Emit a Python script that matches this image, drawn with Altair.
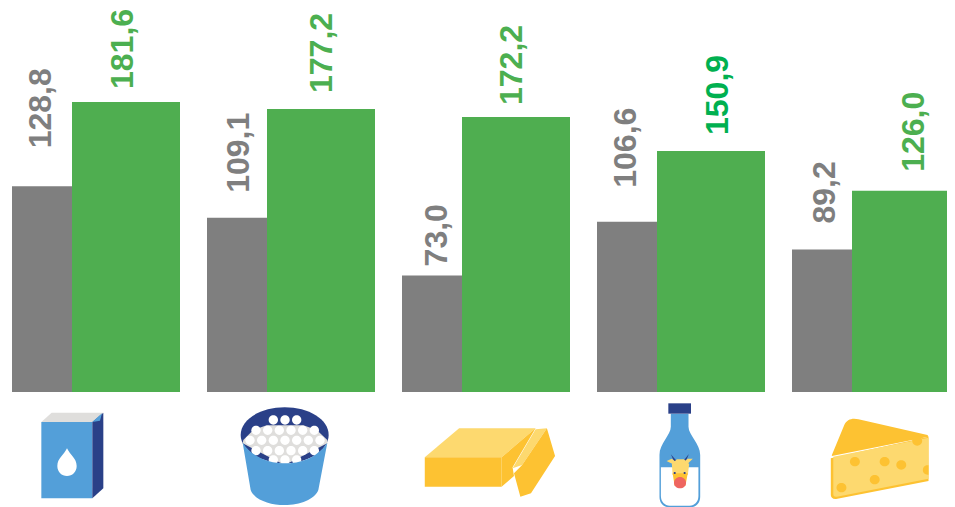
import re
import altair as alt
import pandas as pd

# ---- chart values ----
categories = ["Leite UHT", "Leite em pó", "Manteiga", "Leite", "Queijo"]
gray_values = [128.8, 109.1, 73.0, 106.6, 89.2]
green_values = [181.6, 177.2, 172.2, 150.9, 126.0]

# ---- hand placement of the value labels (screen px) ----
gray_nudge = [(-55, -38), (-52, -25), (-49.5, -9), (-55.5, -34), (-51, -26)]
green_nudge = [(27, -13), (30.5, -16), (26, -12), (36.5, -16), (37.5, -19)]
green_label_colors = ["#4caf50", "#4caf50", "#4caf50", "#00b050", "#4caf50"]

GRAY = "#7f7f7f"
GREEN = "#4fae50"
BLUE = "#539fd9"
NAVY = "#2a4088"
LIGHT = "#dfdedc"
AMBER = "#fdc232"
BUTTER = "#fdd96f"


def circle(cx, cy, r):
    k = 0.5523 * r
    return (f"M{cx-r},{cy} C{cx-r},{cy-k} {cx-k},{cy-r} {cx},{cy-r} "
            f"C{cx+k},{cy-r} {cx+r},{cy-k} {cx+r},{cy} "
            f"C{cx+r},{cy+k} {cx+k},{cy+r} {cx},{cy+r} "
            f"C{cx-k},{cy+r} {cx-r},{cy+k} {cx-r},{cy} Z")


def place(path, stretch, dx):
    return re.sub(r"(-?[\d.]+),(-?[\d.]+)",
                  lambda m: f"{float(m.group(1)) * stretch + dx:.2f},{m.group(2)}", path)


# Icon artwork: pictograms, drawn at 3x, origin x is given for each group
carton = [
    (BLUE, "M124,96 L277,96 L277,325 L124,325 Z"),
    (LIGHT, "M124,96 L155,68 L310,68 L277,96 Z"),
    (NAVY, "M277,96 L310,68 L310,295 L277,325 Z"),
    (BLUE, "M277,96 L306,70 L300,92 Z"),
    ("#ffffff", "M201,175 C210,195 230,205 230,228 C230,246 217,258 201,258 "
                "C185,258 172,246 172,228 C172,205 192,195 201,175 Z"),
]

bucket = [
    (NAVY, "M722,135 C722,88 782,52 854,52 C926,52 986,88 986,135 "
           "C986,180 926,220 854,220 C782,220 722,180 722,135 Z"),
    (LIGHT, "M730,150 L760,120 L800,106 L910,106 L950,120 L982,150 L982,160 L854,225 L728,160 Z"),
]
for cy, xs in [(90, [820, 855, 890]),
               (121, [768, 803, 838, 873, 908, 943]),
               (151, [750, 785, 820, 855, 890, 925, 960]),
               (182, [768, 803, 838, 873, 908, 943]),
               (210, [820, 855, 890])]:
    bucket += [("#ffffff", circle(x, cy, 14)) for x in xs]
bucket.append((BLUE, "M728,158 C760,205 810,220 854,220 C900,220 950,205 982,158 "
                     "L955,300 C945,328 900,345 854,345 C808,345 762,328 752,300 Z"))

butter = [
    (BUTTER, "M70,202 L167,115 L383,115 L287,202 Z"),
    (AMBER, "M70,202 L287,202 L287,290 L70,290 Z"),
    (AMBER, "M287,202 L383,115 L318,232 L322,258 L287,290 Z"),
    (BUTTER, "M318,235 L383,118 L415,115 L345,225 Z"),
    (AMBER, "M415,115 L438,198 L370,310 L340,320 L322,250 L345,225 Z"),
]

bottle = [
    (BLUE, "M765,71 L815,71 L815,110 C815,135 848,160 848,195 L848,320 "
           "C848,340 835,352 820,352 L762,352 C745,352 733,340 733,320 L733,195 "
           "C733,160 765,135 765,110 Z"),
    (NAVY, "M758,40 L822,40 L822,71 L758,71 Z"),
    ("#ffffff", "M737,232 L843,232 L843,318 C843,335 832,347 818,347 L762,347 "
                "C748,347 737,335 737,318 Z"),
    (NAVY, "M765,193 L784,216 L776,218 Z"),
    (NAVY, "M816,192 L798,216 L806,218 Z"),
    (BUTTER, "M753,213 L768,206 L782,218 L770,222 Z"),
    (BUTTER, "M827,206 L812,206 L800,218 L812,222 Z"),
    (BUTTER, "M768,222 L782,208 L802,208 L817,222 L813,255 L770,255 Z"),
    (AMBER, "M770,250 L813,250 L806,288 L776,288 Z"),
    ("#ee6560", circle(791, 278, 17)),
    (NAVY, circle(776, 249, 3)),
    (NAVY, circle(804, 249, 3)),
]

cheese = [
    (AMBER, "M1217,205 L1493,140 L1493,273 L1232,327 C1222,328 1217,322 1217,315 Z"),
    (BUTTER, "M1224,200 L1493,143 L1493,266 L1234,320 C1227,321 1224,318 1224,312 Z"),
    (AMBER, "M1220,195 L1255,105 C1262,88 1278,83 1295,88 L1490,135 L1493,140 L1220,198 Z"),
    (AMBER, circle(1285, 215, 14)),
    (AMBER, circle(1369, 215, 14)),
    (AMBER, circle(1416, 225, 14)),
    (AMBER, circle(1341, 269, 14)),
    (AMBER, circle(1247, 293, 14)),
    (AMBER, circle(1461, 153, 14)),
    (AMBER, "M1493,226 C1482,224 1477,232 1477,240 C1477,248 1482,255 1493,254 Z"),
]

# artwork, its horizontal stretch, and its origin relative to the group's centre, in 3x px
icons = [(carton, 1, -96 * 3), (bucket, 1, -291 * 3), (butter, 1.062, -86 * 3),
         (bottle, 1.062, -281 * 3), (cheese, 1.062, -476 * 3)]

rows = []
for i, (parts, stretch, dx) in enumerate(icons):
    for color, d in parts:
        rows.append({"idx": i, "fill": color, "d": place(d, stretch, dx)})
icon_df = pd.DataFrame(rows)

bars = pd.DataFrame({"idx": range(5), "cat": categories,
                     "gray": gray_values, "green": green_values})


def lab(v):
    return f"{v:.1f}".replace(".", ",")


x_scale = alt.Scale(domain=[-88 / 195, 851 / 195], range=[0, 939], nice=False, zero=False, padding=0)
y_scale = alt.Scale(domain=[0, 384 / 1.597], range=[384, 0], nice=False, padding=0)
X = alt.X("idx:Q", scale=x_scale, axis=None)

layers = [
    alt.Chart(bars).mark_bar(size=108, orient="vertical", xOffset=-30, color=GRAY)
    .encode(x=X, y=alt.Y("gray:Q", scale=y_scale, axis=None)),
    alt.Chart(bars).mark_bar(size=108, orient="vertical", xOffset=30, color=GREEN)
    .encode(x=X, y=alt.Y("green:Q", scale=y_scale, axis=None)),
]

font = dict(font="Liberation Sans", fontSize=32, fontWeight="bold", angle=270,
            align="left", baseline="middle")
for i in range(5):
    row = pd.DataFrame({"idx": [i], "v": [gray_values[i]], "t": [lab(gray_values[i])]})
    layers.append(alt.Chart(row).mark_text(color=GRAY, xOffset=gray_nudge[i][0],
                                           yOffset=gray_nudge[i][1], **font)
                  .encode(x=X, y=alt.Y("v:Q", scale=y_scale, axis=None), text="t:N"))
    row = pd.DataFrame({"idx": [i], "v": [green_values[i]], "t": [lab(green_values[i])]})
    layers.append(alt.Chart(row).mark_text(color=green_label_colors[i], xOffset=green_nudge[i][0],
                                           yOffset=green_nudge[i][1], **font)
                  .encode(x=X, y=alt.Y("v:Q", scale=y_scale, axis=None), text="t:N"))

layers.append(
    alt.Chart(icon_df).mark_point(filled=True, opacity=1, strokeWidth=0, size=4 / 9)
    .encode(x=X, y=alt.value(382),
            shape=alt.Shape("d:N", scale=None, legend=None),
            fill=alt.Fill("fill:N", scale=None, legend=None))
)

chart = alt.layer(*layers).properties(
    width=939, height=499, padding=0,
    autosize=alt.AutoSizeParams(type="none"),
    background="#ffffff",
).configure_view(stroke=None)

chart.save("out.html", embed_options={"renderer": "svg", "actions": False})
